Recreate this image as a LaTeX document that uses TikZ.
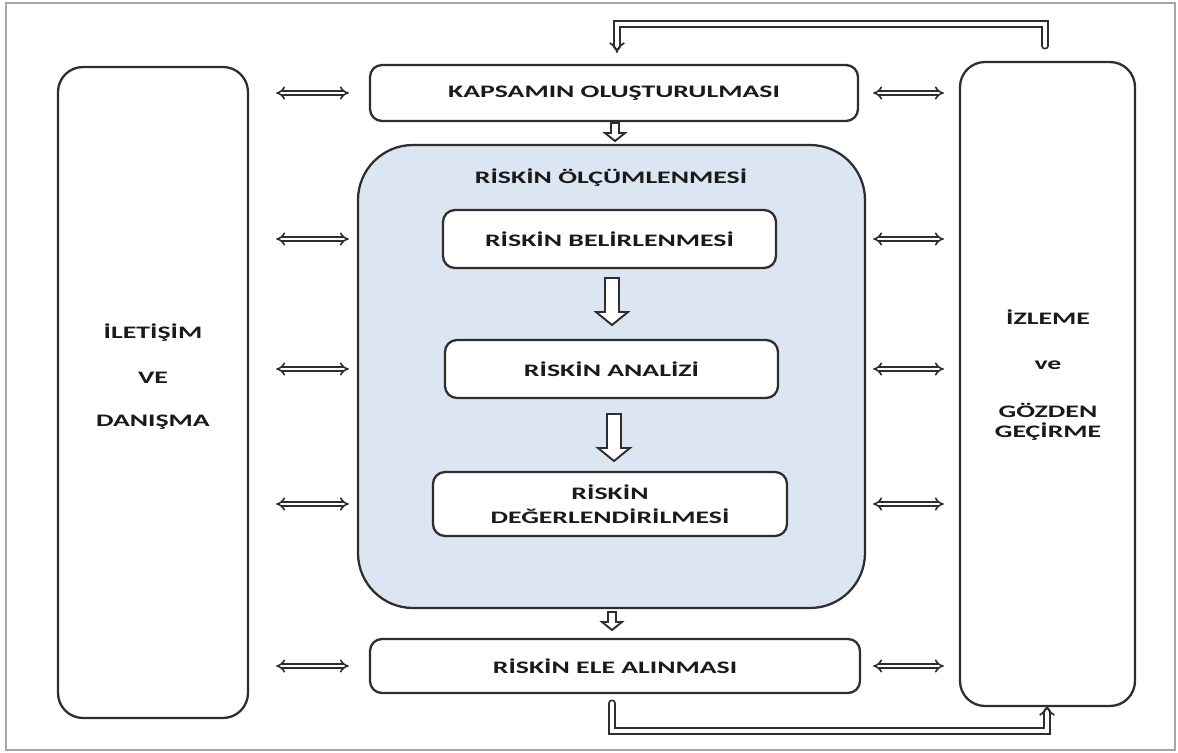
\documentclass[tikz,border=0pt]{standalone}
\usepackage{fontspec}
\setmainfont{Carlito}[FakeStretch=1.58]
\usetikzlibrary{arrows.meta}
\newlength\pxu \setlength\pxu{0.02cm}
\definecolor{boxline}{HTML}{2E2E2E}
\definecolor{bluefill}{HTML}{DCE6F2}
\definecolor{txt}{HTML}{1A1A1A}
\tikzset{
 box/.style={draw=boxline, line width=1.3pt, rounded corners=12\pxu, fill=white, inner sep=0pt},
 tallbox/.style={box, rounded corners=25\pxu},
 lbl/.style={font=\bfseries\fontsize{10}{13.6}\selectfont, text=txt, align=center, inner sep=0pt},
 dbl/.style={draw=boxline, double=white, double distance=1.6pt, line width=0.9pt, {Implies}-{Implies}},
 loopline/.style={draw=boxline, double=white, double distance=2pt, line width=1pt, line cap=round},
 pics/blockdown/.style n args={4}{code={
   \draw[draw=boxline, line width=1.1pt, fill=white, line join=miter]
     (-#1,0) -- (#1,0) -- (#1,#3) -- (#2,#3) -- (0,#4) -- (-#2,#3) -- (-#1,#3) -- cycle;}},
}
\begin{document}
\begin{tikzpicture}[x=0.02cm,y=-0.02cm]
\useasboundingbox (0,0) rectangle (1178,753);
\draw[gray!70, line width=0.8pt] (6,3) rectangle (1175,750);

% tall side boxes
\node[tallbox, minimum width=190\pxu, minimum height=651\pxu] (L) at (153,392.5) {};
\node[tallbox, minimum width=175\pxu, minimum height=644\pxu] (R) at (1047.5,384) {};
\node[lbl] (l1) at (153,333) {İLETİŞİM};
\node[lbl] (l2) at (153,378) {VE};
\node[lbl] (l3) at (153,422) {DANIŞMA};
\node[lbl] (r1) at (1048,317) {İZLEME};
\node[lbl] (r2) at (1048,365) {ve};
\node[lbl] (r3) at (1048,410) {GÖZDEN};
\node[lbl] (r4) at (1048,432) {GEÇİRME};

% central column
\node[box, minimum width=488\pxu, minimum height=56\pxu] (kap) at (614,93) {};
\node[lbl] (kapt) at (kap) {KAPSAMIN OLUŞTURULMASI};
\node[box, fill=bluefill, rounded corners=55\pxu, minimum width=507\pxu, minimum height=463\pxu] (big) at (611.5,376.5) {};
\node[lbl] (bigt) at (611,178) {RİSKİN ÖLÇÜMLENMESİ};
\node[box, minimum width=333\pxu, minimum height=58\pxu] (bel) at (609.5,239) {};
\node[lbl] (belt) at (bel) {RİSKİN BELİRLENMESİ};
\node[box, minimum width=333\pxu, minimum height=58\pxu] (ana) at (611.5,369) {};
\node[lbl] (anat) at (ana) {RİSKİN ANALİZİ};
\node[box, minimum width=354\pxu, minimum height=64\pxu] (deg) at (610,504) {};
\node[lbl] (degt) at (deg) {RİSKİN\\DEĞERLENDİRİLMESİ};
\node[box, minimum width=490\pxu, minimum height=54\pxu] (ele) at (615,666) {};
\node[lbl] (elet) at (ele) {RİSKİN ELE ALINMASI};

% vertical block arrows
\pic at (615,123) {blockdown={4}{10}{10}{18}};
\pic at (612,278) {blockdown={7}{16}{34}{47}};
\pic at (614,414) {blockdown={7}{16}{34}{47}};
\pic at (612,612) {blockdown={4}{10}{10}{18}};

% left double arrows
\draw[dbl, shorten <=27\pxu, shorten >=20\pxu] (L.east |- kap.west) -- (kap.west);
\draw[dbl, shorten <=27\pxu, shorten >=8\pxu] (L.east |- bel.west) -- (big.west |- bel.west);
\draw[dbl, shorten <=27\pxu, shorten >=8\pxu] (L.east |- ana.west) -- (big.west |- ana.west);
\draw[dbl, shorten <=27\pxu, shorten >=8\pxu] (L.east |- deg.west) -- (big.west |- deg.west);
\draw[dbl, shorten <=27\pxu, shorten >=20\pxu] (L.east |- ele.west) -- (ele.west);
% right double arrows
\draw[dbl, shorten <=14\pxu, shorten >=15\pxu] (kap.east) -- (R.west |- kap.east);
\draw[dbl, shorten <=7\pxu, shorten >=15\pxu] (big.east |- bel.east) -- (R.west |- bel.east);
\draw[dbl, shorten <=7\pxu, shorten >=15\pxu] (big.east |- ana.east) -- (R.west |- ana.east);
\draw[dbl, shorten <=7\pxu, shorten >=15\pxu] (big.east |- deg.east) -- (R.west |- deg.east);
\draw[dbl, shorten <=12\pxu, shorten >=15\pxu] (ele.east) -- (R.west |- ele.east);

% feedback loops
\coordinate (tA) at (1045,46);
\coordinate (tB) at (617,24);
\coordinate (tC) at (617,53);
\draw[loopline, -{Implies}] (tA) |- (tB) -- (tC);
\coordinate (bA) at (612,703);
\coordinate (bB) at (1047,731);
\coordinate (bC) at (1047,705);
\draw[loopline, -{Implies}] (bA) |- (bB) -- (bC);
\end{tikzpicture}
\end{document}
